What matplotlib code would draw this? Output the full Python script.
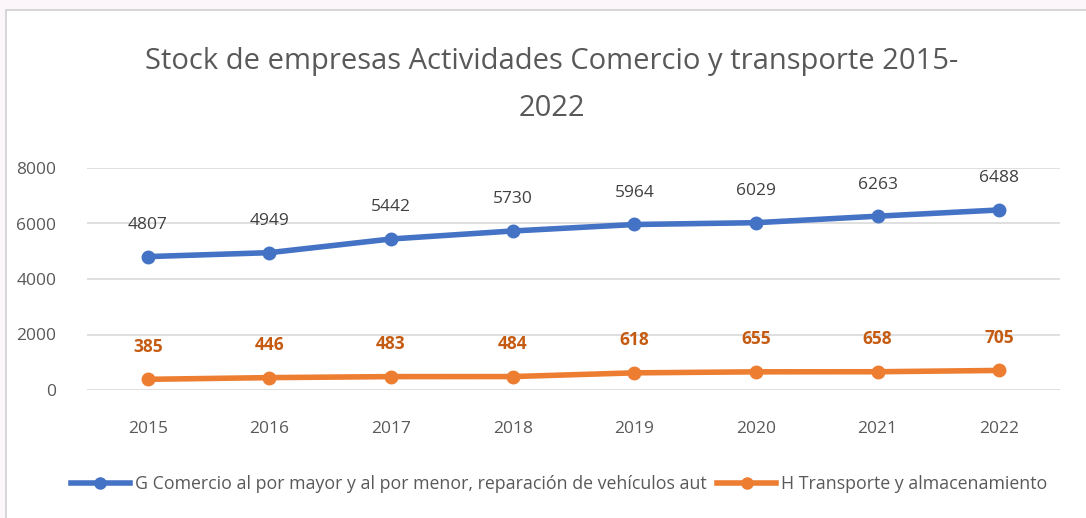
import matplotlib.pyplot as plt
from matplotlib.patches import Rectangle
from matplotlib.lines import Line2D

plt.rcParams['font.family'] = ['Open Sans', 'DejaVu Sans']

years = ['2015', '2016', '2017', '2018', '2019', '2020', '2021', '2022']
comercio = [4807, 4949, 5442, 5730, 5964, 6029, 6263, 6488]
transporte = [385, 446, 483, 484, 618, 655, 658, 705]
label_g = 'G Comercio al por mayor y al por menor, reparación de vehículos aut'
label_h = 'H Transporte y almacenamiento'

blue = '#4472C4'
orange = '#ED7D31'
grey_txt = '#595959'

fig = plt.figure(figsize=(10.86, 5.18), dpi=100)
fig.patch.set_facecolor('#FCF6FB')
fig.patches.append(Rectangle((6 / 1086, -0.01), 1.02, 1 - 10 / 518 + 0.01,
                             transform=fig.transFigure, facecolor='white',
                             edgecolor='#D0D0D0', lw=1.2, zorder=-5))

ax = fig.add_axes([87 / 1086, 1 - 390 / 518, (1060 - 87) / 1086, (390 - 168) / 518])
ax.set_facecolor('none')
x = list(range(len(years)))
ax.plot(x, comercio, color=blue, lw=4, marker='o', ms=9, label=label_g, zorder=3)
ax.plot(x, transporte, color=orange, lw=4, marker='o', ms=9, label=label_h, zorder=3)

for i, v in enumerate(comercio):
    ax.annotate(str(v), (i, v), xytext=(0, 17), textcoords='offset points',
                ha='center', va='bottom', fontsize=12.5, color='#404040')
for i, v in enumerate(transporte):
    ax.annotate(str(v), (i, v), xytext=(0, 17), textcoords='offset points',
                ha='center', va='bottom', fontsize=12.5, color='#C55A11', fontweight='bold')

ax.set_xlim(-0.5, len(years) - 0.5)
ax.set_ylim(0, 8000)
ax.set_yticks([0, 2000, 4000, 6000, 8000])
ax.set_xticks(x)
ax.set_xticklabels(years)
ax.grid(axis='y', color='#D9D9D9', lw=1.2)
ax.set_axisbelow(True)
for s in ax.spines.values():
    s.set_visible(False)
ax.tick_params(length=0, labelsize=12.5, labelcolor=grey_txt)
ax.tick_params(axis='x', pad=22)
ax.tick_params(axis='y', pad=22)

fig.text(0.508, 1 - 62 / 518, 'Stock de empresas Actividades Comercio y transporte 2015-',
         ha='center', va='center', fontsize=21, color=grey_txt)
fig.text(0.508, 1 - 108 / 518, '2022', ha='center', va='center', fontsize=21, color=grey_txt)

handles = [Line2D([], [], color=blue, lw=4, marker='o', ms=8),
           Line2D([], [], color=orange, lw=4, marker='o', ms=8)]
fig.legend(handles, [label_g, label_h], loc='center', bbox_to_anchor=(0.515, 1 - 484 / 518),
           ncol=2, frameon=False, fontsize=12.8, handlelength=3.3, handletextpad=0.3,
           columnspacing=0.6, labelcolor=grey_txt)

fig.savefig('out.png', dpi=100, facecolor=fig.get_facecolor())
